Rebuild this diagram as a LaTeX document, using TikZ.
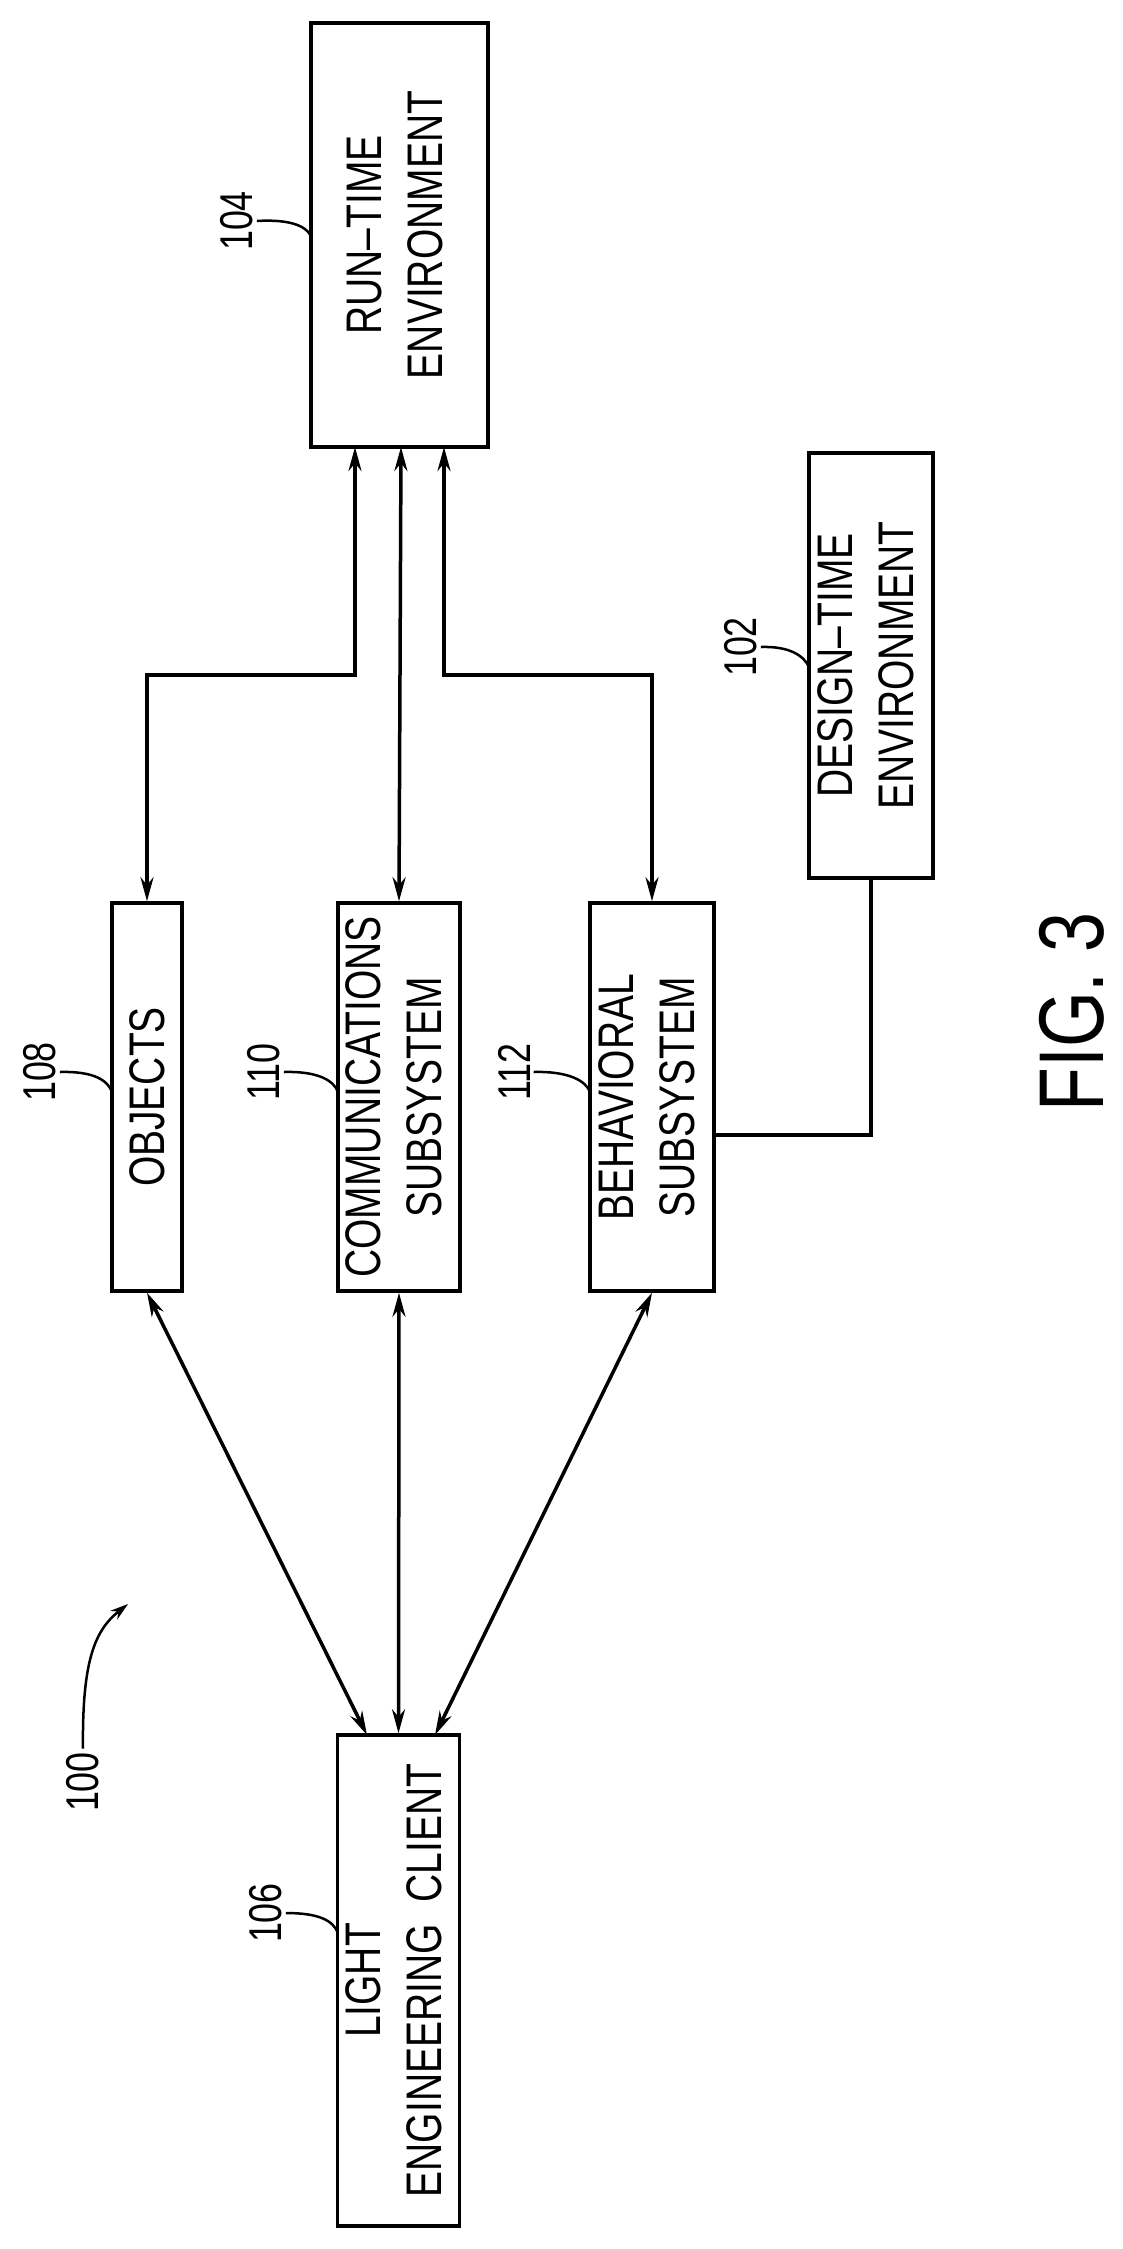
\documentclass[tikz,border=0pt]{standalone}
\usepackage{fontspec}
\setmainfont{Liberation Sans}[FakeStretch=0.78]
\usetikzlibrary{arrows.meta}
\begin{document}
\begin{tikzpicture}[x=1pt,y=-1pt,
  box/.style={draw,line width=3.5pt,inner sep=0pt,font=\fontsize{50}{61}\selectfont},
  conn/.style={line width=3.5pt,{Stealth[length=24pt,width=13pt]}-{Stealth[length=24pt,width=13pt]}},
  lead/.style={line width=2.5pt},
  num/.style={font=\fontsize{46}{50}\selectfont,rotate=90}]
\useasboundingbox (0,0) rectangle (1122,2249);
\node[box,minimum width=177pt,minimum height=424pt] (rt) at (399.5,235)
  {\rotatebox{90}{\begin{tabular}{c}RUN--TIME\\ENVIRONMENT\end{tabular}}};
\node[box,minimum width=124pt,minimum height=425pt] (dt) at (871,665.5)
  {\rotatebox{90}{\begin{tabular}{c}DESIGN--TIME\\ENVIRONMENT\end{tabular}}};
\node[box,minimum width=70pt,minimum height=388pt] (obj) at (147,1097)
  {\rotatebox{90}{OBJECTS}};
\node[box,minimum width=122pt,minimum height=388pt] (com) at (399,1097)
  {\rotatebox{90}{\begin{tabular}{c}COMMUNICATIONS\\SUBSYSTEM\end{tabular}}};
\node[box,minimum width=124pt,minimum height=388pt] (beh) at (652,1097)
  {\rotatebox{90}{\begin{tabular}{c}BEHAVIORAL\\SUBSYSTEM\end{tabular}}};
\node[box,minimum width=121pt,minimum height=491pt] (cl) at (398.5,1980.5)
  {\rotatebox{90}{\begin{tabular}{c}LIGHT\\ENGINEERING\ \ CLIENT\end{tabular}}};
% run-time connectors
\coordinate (a1) at (355,447);
\coordinate (a2) at (401,447);
\coordinate (a3) at (444,447);
\coordinate (h1) at (355,675);
\coordinate (h3) at (444,675);
\draw[conn] (obj.north) -- (obj.north |- h1) -- (h1) -- (a1);
\draw[conn] (com.north) -- (a2);
\draw[conn] (beh.north) -- (beh.north |- h3) -- (h3) -- (a3);
% design-time to behavioral
\coordinate (b2) at (714,1135);
\draw[line width=3.5pt] (dt.south) |- (b2);
% client connectors
\coordinate (c1) at (367,1735);
\coordinate (c3) at (435,1735);
\draw[conn] (obj.south) -- (c1);
\draw[conn] (com.south) -- (cl.north);
\draw[conn] (beh.south) -- (c3);
% reference numerals
\node[num] (n104) at (237,221) {104};
\draw[lead] (n104.south) .. controls (290,219) and (306,226) .. (311,236);
\node[num] (n102) at (741,647) {102};
\draw[lead] (n102.south) .. controls (790,646) and (804,656) .. (809,667);
\node[num] (n108) at (40,1072) {108};
\draw[lead] (n108.south) .. controls (95,1071) and (108,1081) .. (112,1092);
\node[num] (n110) at (264,1072) {110};
\draw[lead] (n110.south) .. controls (319,1071) and (334,1081) .. (338,1092);
\node[num] (n112) at (514,1072) {112};
\draw[lead] (n112.south) .. controls (569,1071) and (586,1081) .. (590,1092);
\node[num] (n106) at (266,1913) {106};
\draw[lead] (n106.south) .. controls (318,1913) and (333,1920) .. (338,1933);
\node[num] (n100) at (83,1782) {100};
\coordinate (p100) at (128,1604);
\draw[lead,-{Stealth[length=18pt,width=11pt]}] (n100.east) .. controls (82,1660) and (95,1630) .. (p100);
\node[font=\fontsize{92}{100}\selectfont,rotate=90] (fig) at (1072,1012) {FIG. 3};
\end{tikzpicture}
\end{document}
